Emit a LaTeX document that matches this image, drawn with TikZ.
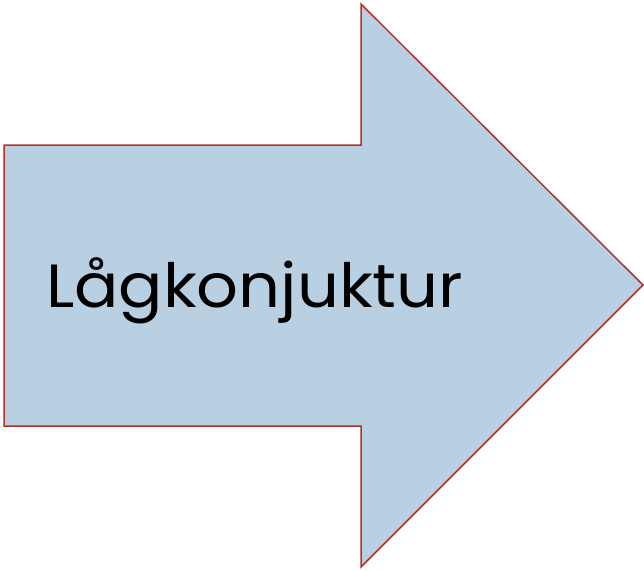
\documentclass[tikz,border=0pt]{standalone}
\usepackage{fontspec}
\setmainfont{Poppins}
\newfontfamily\widefont[FakeStretch=1.075]{Poppins}
\definecolor{arrowfill}{HTML}{B9D0E2}
\definecolor{arrowline}{HTML}{B3312C}
\tikzset{bigarrow/.style={fill=arrowfill, draw=arrowline, line width=1.5pt, line join=miter},
  lbl/.style={inner sep=0pt, anchor=base west, font=\widefont\fontsize{61}{70}\selectfont}}
\begin{document}
\begin{tikzpicture}[x=1pt,y=-1pt]
\useasboundingbox (0,0) rectangle (644,570);
\draw[bigarrow] (4,145) -- (361,145) -- (361,4) -- (643,285) -- (361,567) -- (361,426) -- (4,426) -- cycle;
\node[lbl] (t) at (46,307) {Lågkonjuktur};
\end{tikzpicture}
\end{document}
